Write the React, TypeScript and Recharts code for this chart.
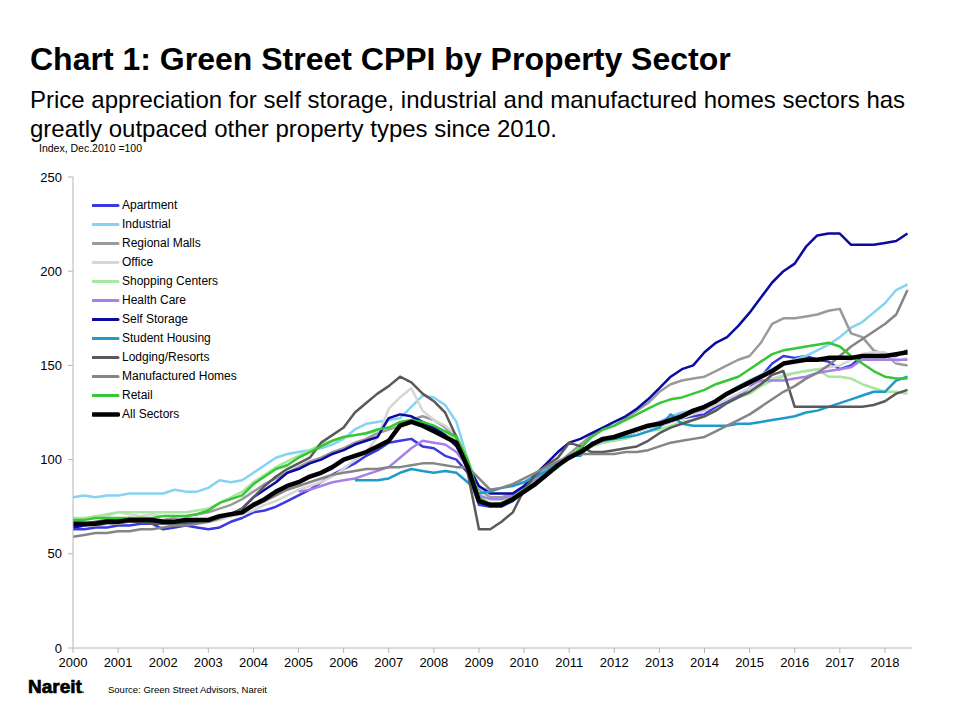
import React from 'react';
import { LineChart, Line, XAxis, YAxis } from 'recharts';

// quarterly time points (x values), Dec.2010 = 100
const quarters = [
  2000, 2000.25, 2000.5, 2000.75,
  2001, 2001.25, 2001.5, 2001.75,
  2002, 2002.25, 2002.5, 2002.75,
  2003, 2003.25, 2003.5, 2003.75,
  2004, 2004.25, 2004.5, 2004.75,
  2005, 2005.25, 2005.5, 2005.75,
  2006, 2006.25, 2006.5, 2006.75,
  2007, 2007.25, 2007.5, 2007.75,
  2008, 2008.25, 2008.5, 2008.75,
  2009, 2009.25, 2009.5, 2009.75,
  2010, 2010.25, 2010.5, 2010.75,
  2011, 2011.25, 2011.5, 2011.75,
  2012, 2012.25, 2012.5, 2012.75,
  2013, 2013.25, 2013.5, 2013.75,
  2014, 2014.25, 2014.5, 2014.75,
  2015, 2015.25, 2015.5, 2015.75,
  2016, 2016.25, 2016.5, 2016.75,
  2017, 2017.25, 2017.5, 2017.75,
  2018, 2018.25, 2018.5,
];

const yearTicks = [2000, 2001, 2002, 2003, 2004, 2005, 2006, 2007, 2008, 2009, 2010, 2011, 2012, 2013, 2014, 2015, 2016, 2017, 2018];
const valueTicks = [0, 50, 100, 150, 200, 250];

const apartment = [
  63, 63, 64, 64,
  65, 65, 66, 66,
  63, 64, 65, 64,
  63, 64, 67, 69,
  72, 73, 75, 78,
  81, 84, 88, 92,
  95, 98, 102, 105,
  109, 110, 111, 107,
  106, 102, 100, 93,
  76, 75, 75, 78,
  83, 88, 93, 97,
  102, 105, 107, 110,
  111, 113, 115, 117,
  118, 120, 122, 123,
  124, 128, 131, 134,
  138, 144, 151, 155,
  154, 155, 153, 152,
  148, 150, 155, 155,
  155, 155, 158,
];

const industrial = [
  80, 81, 80, 81,
  81, 82, 82, 82,
  82, 84, 83, 83,
  85, 89, 88, 89,
  93, 97, 101, 103,
  104, 105, 106, 108,
  111, 116, 119, 120,
  121, 122, 128, 134,
  133, 129, 120, 100,
  85, 84, 85, 87,
  88, 92, 95, 98,
  101, 104, 107, 110,
  112, 114, 116, 118,
  120, 123, 125, 126,
  128, 131, 135, 139,
  142, 145, 148, 151,
  153, 155, 158, 161,
  165, 170, 173, 178,
  183, 190, 193,
];

const regionalMalls = [
  64, 65, 65, 66,
  66, 67, 67, 68,
  68, 69, 70, 71,
  72, 74, 76, 79,
  83, 87, 90, 93,
  96, 99, 101, 104,
  106, 109, 111, 114,
  116, 118, 121, 123,
  121, 117, 111, 98,
  84, 80, 80, 82,
  86, 90, 94, 98,
  103, 108, 113, 116,
  118, 122, 126, 130,
  136, 140, 142, 143,
  144, 147, 150, 153,
  155, 162, 172, 175,
  175, 176, 177, 179,
  180, 167, 165, 158,
  156, 151, 150,
];

const office = [
  67, 68, 69, 70,
  72, 71, 70, 71,
  70, 70, 69, 68,
  67, 68, 70, 71,
  73, 76, 78, 81,
  84, 86, 88, 91,
  95, 100, 104, 112,
  127, 133, 138, 126,
  121, 118, 113, 100,
  80, 76, 77, 79,
  83, 87, 92, 97,
  101, 104, 107, 109,
  111, 113, 115, 117,
  118, 120, 122, 124,
  126, 129, 132, 135,
  138, 141, 143, 145,
  146, 147, 148, 149,
  150, 153, 156, 157,
  157, 152, 154,
];

const shoppingCenters = [
  69, 69, 70, 71,
  72, 72, 72, 72,
  72, 72, 72, 73,
  74, 77, 80, 83,
  88, 92, 96, 99,
  102, 105, 108, 110,
  112, 113, 114, 115,
  117, 119, 120, 119,
  117, 114, 111, 100,
  80, 77, 77, 80,
  84, 88, 92, 96,
  101, 104, 107, 109,
  110, 111, 113, 115,
  116, 118, 120, 121,
  123, 126, 130, 133,
  135, 139, 142, 144,
  146, 147, 148, 144,
  144, 143, 140, 138,
  136, 136, 135,
];

const healthCare = [
  null, null, null, null,
  null, null, null, null,
  null, null, null, null,
  null, null, null, null,
  null, null, null, null,
  83, 84, 86, 88,
  89, 90, 92, 94,
  96, 101, 106, 110,
  109, 108, 104, 96,
  81, 79, 79, 81,
  85, 89, 93, 97,
  101, 104, 108, 110,
  112, 114, 116, 118,
  120, 122, 124, 125,
  127, 131, 135, 138,
  140, 142, 142, 142,
  143, 144, 146, 147,
  148, 149, 153, 153,
  153, 153, 153,
];

const selfStorage = [
  64, 65, 66, 67,
  68, 69, 68, 67,
  66, 66, 67, 68,
  68, 70, 71, 74,
  80, 84, 88, 93,
  95, 98, 100, 103,
  105, 108, 110, 112,
  122, 124, 123, 120,
  117, 113, 107, 97,
  86, 82, 82, 82,
  86, 92, 98, 104,
  109, 111, 114, 117,
  120, 123, 127, 132,
  138, 144, 148, 150,
  157, 162, 165, 171,
  178, 186, 194, 200,
  204, 213, 219, 220,
  220, 214, 214, 214,
  215, 216, 220,
];

const studentHousing = [
  null, null, null, null,
  null, null, null, null,
  null, null, null, null,
  null, null, null, null,
  null, null, null, null,
  null, null, null, null,
  null, 89, 89, 89,
  90, 93, 95, 94,
  93, 94, 93, 88,
  82, 83, 85, 86,
  88, 91, 94, 98,
  102, 102, 109, 110,
  111, 112, 113, 115,
  117, 124, 119, 118,
  118, 118, 118, 119,
  119, 120, 121, 122,
  123, 125, 126, 128,
  130, 132, 134, 136,
  136, 142, 144,
];

const lodging = [
  66, 66, 67, 68,
  68, 67, 67, 66,
  66, 66, 66, 67,
  67, 69, 71, 74,
  80, 86, 91, 95,
  98, 101, 109, 113,
  117, 125, 130, 135,
  139, 144, 141, 135,
  131, 125, 112, 93,
  63, 63, 67, 72,
  84, 92, 97, 101,
  109, 107, 104, 104,
  105, 106, 107, 110,
  114, 117, 119, 121,
  123, 126, 130, 133,
  136, 140, 145, 147,
  128, 128, 128, 128,
  128, 128, 128, 129,
  131, 135, 137,
];

const manufacturedHomes = [
  59, 60, 61, 61,
  62, 62, 63, 63,
  64, 65, 65, 66,
  67, 69, 71, 73,
  75, 78, 81, 84,
  86, 88, 90, 92,
  93, 94, 95, 95,
  96, 96, 97, 98,
  98, 97, 96, 96,
  90, 84, 85, 87,
  90, 93, 96, 99,
  102, 103, 103, 103,
  103, 104, 104, 105,
  107, 109, 110, 111,
  112, 115, 118, 121,
  124, 128, 132, 136,
  139, 143, 146, 150,
  155, 160, 164, 168,
  172, 177, 190,
];

const retail = [
  68, 68, 69, 69,
  69, 69, 69, 69,
  70, 70, 70, 71,
  73, 77, 79, 81,
  87, 91, 95, 97,
  101, 104, 107, 110,
  112, 113, 114, 116,
  117, 120, 121, 120,
  118, 115, 112, 100,
  80, 76, 77, 80,
  84, 88, 92, 96,
  101, 106, 112, 116,
  118, 121, 124, 127,
  130, 132, 133, 135,
  137, 140, 142, 144,
  148, 152, 156, 158,
  159, 160, 161, 162,
  160, 155, 151, 147,
  144, 143, 143,
];

const allSectors = [
  66, 66, 66, 67,
  67, 68, 68, 68,
  67, 67, 68, 68,
  68, 70, 71, 72,
  76, 79, 83, 86,
  88, 91, 93, 96,
  100, 102, 104, 107,
  110, 118, 120, 118,
  115, 112, 109, 96,
  78, 76, 76, 79,
  83, 87, 92, 97,
  101, 104, 108, 111,
  112, 114, 116, 118,
  119, 121, 123, 126,
  128, 131, 135, 138,
  141, 144, 147, 151,
  152, 153, 153, 154,
  154, 154, 155, 155,
  155, 156, 157,
];

const series = [
  { key: 'apartment', name: 'Apartment', color: '#3A3ADE', width: 2.5, values: apartment },
  { key: 'industrial', name: 'Industrial', color: '#85D3F0', width: 2.5, values: industrial },
  { key: 'regionalMalls', name: 'Regional Malls', color: '#9A9A9A', width: 2.5, values: regionalMalls },
  { key: 'office', name: 'Office', color: '#D6D6D6', width: 2.5, values: office },
  { key: 'shoppingCenters', name: 'Shopping Centers', color: '#A6E8A0', width: 2.5, values: shoppingCenters },
  { key: 'healthCare', name: 'Health Care', color: '#A780E8', width: 2.5, values: healthCare },
  { key: 'selfStorage', name: 'Self Storage', color: '#0A0AA0', width: 2.5, values: selfStorage },
  { key: 'studentHousing', name: 'Student Housing', color: '#1F9BC9', width: 2.5, values: studentHousing },
  { key: 'lodging', name: 'Lodging/Resorts', color: '#5A5A5A', width: 2.5, values: lodging },
  { key: 'manufacturedHomes', name: 'Manufactured Homes', color: '#858585', width: 2.5, values: manufacturedHomes },
  { key: 'retail', name: 'Retail', color: '#36C636', width: 2.5, values: retail },
  { key: 'allSectors', name: 'All Sectors', color: '#000000', width: 4.5, values: allSectors },
];

const data = quarters.map((t, i) => {
  const row: Record<string, number | null> = { t };
  series.forEach((s) => {
    row[s.key] = s.values[i];
  });
  return row;
});

const font = 'Arial, "Liberation Sans", sans-serif';
const axisColor = '#B5B5B5';

export default function App() {
  return (
    <div style={{ position: 'absolute', left: 0, top: 0, width: 960, height: 720, background: '#fff', fontFamily: font, color: '#000' }}>
      <div style={{ position: 'absolute', left: 30, top: 43, fontSize: 32, lineHeight: '32px', fontWeight: 700, whiteSpace: 'nowrap' }}>
        Chart 1: Green Street CPPI by Property Sector
      </div>
      <div style={{ position: 'absolute', left: 30, top: 85, fontSize: 24, lineHeight: '29px', whiteSpace: 'nowrap' }}>
        Price appreciation for self storage, industrial and manufactured homes sectors has
        <br />
        greatly outpaced other property types since 2010.
      </div>
      <div style={{ position: 'absolute', left: 39, top: 142, fontSize: 10.5, lineHeight: '12px', whiteSpace: 'nowrap' }}>
        Index, Dec.2010 =100
      </div>

      <div style={{ position: 'absolute', left: 0, top: 0 }}>
        <LineChart width={960} height={720} data={data} margin={{ top: 177, right: 48, bottom: 42, left: 33 }}>
          <XAxis
            dataKey="t"
            type="number"
            domain={[2000, 2018.6]}
            ticks={yearTicks}
            allowDataOverflow
            height={30}
            tickSize={5}
            tickMargin={5}
            interval={0}
            axisLine={{ stroke: axisColor }}
            tickLine={{ stroke: axisColor }}
            tick={{ fontSize: 13, fill: '#000', fontFamily: font }}
          />
          <YAxis
            domain={[0, 250]}
            ticks={valueTicks}
            width={40}
            tickSize={5}
            tickMargin={6}
            axisLine={{ stroke: axisColor }}
            tickLine={{ stroke: axisColor }}
            tick={{ fontSize: 13, fill: '#000', fontFamily: font }}
          />
          {series.map((s) => (
            <Line
              key={s.key}
              dataKey={s.key}
              name={s.name}
              type="linear"
              stroke={s.color}
              strokeWidth={s.width}
              strokeLinejoin="round"
              dot={false}
              activeDot={false}
              isAnimationActive={false}
            />
          ))}
        </LineChart>
      </div>

      <div style={{ position: 'absolute', left: 92, top: 196 }}>
        {series.map((s) => (
          <div key={s.key} style={{ height: 19, display: 'flex', alignItems: 'center' }}>
            <svg width={28} height={19} style={{ display: 'block' }}>
              <line x1={1} y1={9.5} x2={26} y2={9.5} stroke={s.color} strokeWidth={s.key === 'allSectors' ? 4.5 : 3} strokeLinecap="round" />
            </svg>
            <span style={{ fontSize: 12, lineHeight: '19px', marginLeft: 2, whiteSpace: 'nowrap' }}>{s.name}</span>
          </div>
        ))}
      </div>

      <div style={{ position: 'absolute', left: 28, top: 677, fontSize: 19, lineHeight: '19px', fontWeight: 700, WebkitTextStroke: '0.7px #000', whiteSpace: 'nowrap' }}>
        Nareit<span style={{ fontSize: 9, WebkitTextStroke: '0px' }}>.</span>
      </div>
      <div style={{ position: 'absolute', left: 108, top: 684, fontSize: 9.5, lineHeight: '11px', whiteSpace: 'nowrap' }}>
        Source: Green Street Advisors, Nareit
      </div>
    </div>
  );
}
